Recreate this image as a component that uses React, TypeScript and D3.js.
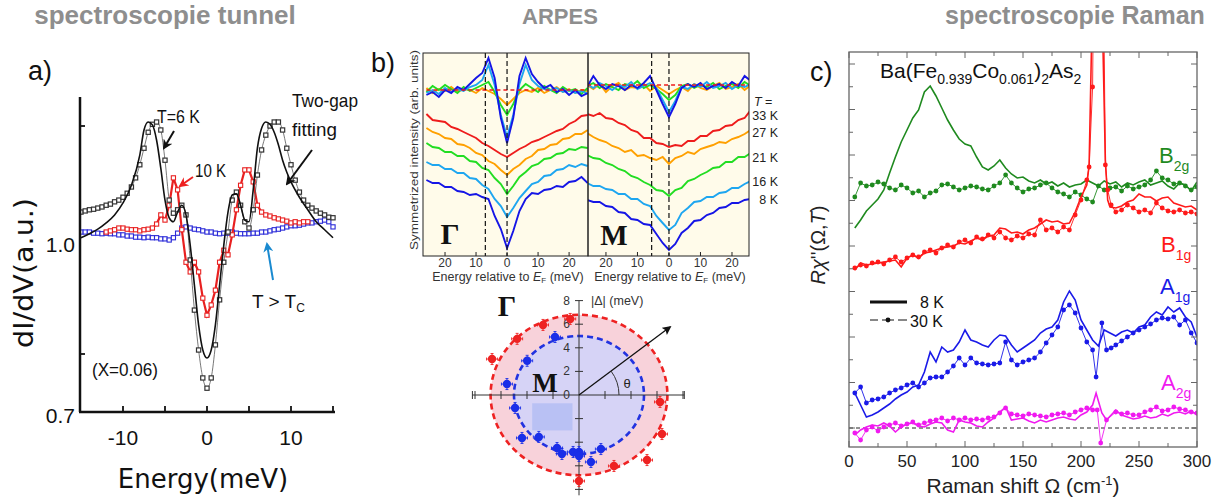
import React from "react";
import * as d3 from "d3";

// ---------------- Panel a : tunnelling spectroscopy (dI/dV vs energy) ----------------
const tunnelTicksE = [-10, -5, 0, 5, 10, 15];
const tunnelLabelsE = [-10, 0, 10];
const tunnelTicksG = [0.8, 1.2];
const tunnelLabelsG = [0.7, 1.0];

const tunnel6K: number[][] = [
  [-15, 1.049], [-14.5, 1.051], [-14, 1.053], [-13.5, 1.054], [-13, 1.056], [-12.5, 1.058], [-12, 1.061], [-11.5, 1.063],
  [-11, 1.067], [-10.5, 1.07], [-10, 1.075], [-9.5, 1.082], [-9, 1.093], [-8.5, 1.109], [-8, 1.132], [-7.5, 1.161],
  [-7, 1.189], [-6.5, 1.203], [-6, 1.207], [-5.5, 1.193], [-5, 1.14], [-4.5, 1.07], [-4, 1.047], [-3.5, 1.053],
  [-3, 1.061], [-2.5, 1.044], [-2, 0.965], [-1.5, 0.877], [-1, 0.807], [-0.5, 0.758], [0, 0.74], [0.5, 0.758],
  [1, 0.816], [1.5, 0.895], [2, 0.961], [2.5, 1.014], [3, 1.07], [3.5, 1.084], [4, 1.061], [4.5, 1.032],
  [5, 1.021], [5.5, 1.053], [6, 1.114], [6.5, 1.158], [7, 1.184], [7.5, 1.2], [8, 1.207], [8.5, 1.207],
  [9, 1.193], [9.5, 1.161], [10, 1.132], [10.5, 1.105], [11, 1.084], [11.5, 1.07], [12, 1.061], [12.5, 1.056],
  [13, 1.051], [13.5, 1.047], [14, 1.044], [14.5, 1.04], [15, 1.039],
];
const tunnelFit6K: number[][] = [
  [-15, 1.004], [-14, 1.011], [-13, 1.019], [-12, 1.03], [-11, 1.044], [-10, 1.065], [-9, 1.096], [-8, 1.149],
  [-7.5, 1.193], [-7, 1.207], [-6.5, 1.202], [-6, 1.175], [-5.5, 1.126], [-5, 1.07], [-4.5, 1.039], [-4, 1.032],
  [-3.5, 1.049], [-3, 1.061], [-2.5, 1.044], [-2, 0.991], [-1.5, 0.921], [-1, 0.851], [-0.5, 0.807], [0, 0.793],
  [0.5, 0.807], [1, 0.851], [1.5, 0.921], [2, 0.991], [2.5, 1.049], [3, 1.079], [3.5, 1.081], [4, 1.061],
  [4.5, 1.035], [5, 1.032], [5.5, 1.088], [6, 1.161], [6.5, 1.196], [7, 1.207], [7.5, 1.203], [8, 1.189],
  [8.5, 1.167], [9, 1.14], [9.5, 1.119], [10, 1.102], [11, 1.075], [12, 1.053], [13, 1.032], [14, 1.018], [15, 1.004],
];
const tunnel10K: number[][] = [
  [-12, 1.014], [-11.5, 1.016], [-11, 1.018], [-10.5, 1.021], [-10, 1.021], [-9.5, 1.019], [-9, 1.018], [-8.5, 1.018],
  [-8, 1.016], [-7.5, 1.018], [-7, 1.019], [-6.5, 1.021], [-6, 1.028], [-5.5, 1.044], [-5, 1.035], [-4.5, 1.061],
  [-4, 1.109], [-3.5, 1.088], [-3, 1.018], [-2.5, 0.961], [-2, 0.944], [-1.5, 0.961], [-1, 0.944], [-0.5, 0.898],
  [0, 0.868], [0.5, 0.886], [1, 0.912], [1.5, 0.961], [2, 0.982], [2.5, 0.974], [3, 1.009], [3.5, 1.053],
  [4, 1.096], [4.5, 1.123], [5, 1.123], [5.5, 1.102], [6, 1.061], [6.5, 1.049], [7, 1.044], [7.5, 1.042],
  [8, 1.039], [8.5, 1.037], [9, 1.035], [9.5, 1.033], [10, 1.03], [10.5, 1.032], [11, 1.03], [11.5, 1.032], [12, 1.032],
];
const tunnelAboveTc: number[][] = [
  [-15, 1.014], [-14.5, 1.014], [-14, 1.014], [-13.5, 1.012], [-13, 1.012], [-12.5, 1.011], [-12, 1.012], [-11.5, 1.011],
  [-11, 1.011], [-10.5, 1.009], [-10, 1.009], [-9.5, 1.007], [-9, 1.007], [-8.5, 1.005], [-8, 1.005], [-7.5, 1.004],
  [-7, 1.005], [-6.5, 1.004], [-6, 1.004], [-5.5, 1.002], [-5, 1.002], [-4.5, 1.0], [-4, 1.004], [-3.5, 1.012],
  [-3, 1.021], [-2.5, 1.023], [-2, 1.021], [-1.5, 1.019], [-1, 1.018], [-0.5, 1.016], [0, 1.014], [0.5, 1.014],
  [1, 1.012], [1.5, 1.011], [2, 1.012], [2.5, 1.012], [3, 1.014], [3.5, 1.012], [4, 1.011], [4.5, 1.011],
  [5, 1.011], [5.5, 1.012], [6, 1.012], [6.5, 1.014], [7, 1.014], [7.5, 1.016], [8, 1.018], [8.5, 1.019],
  [9, 1.021], [9.5, 1.023], [10, 1.025], [10.5, 1.025], [11, 1.026], [11.5, 1.028], [12, 1.03], [12.5, 1.03],
  [13, 1.032], [13.5, 1.033], [14, 1.035], [14.5, 1.032], [15, 1.023],
];

// ---------------- Panel b : ARPES symmetrized EDCs ----------------
const arpesEnergy = [-26, -24, -22, -20, -18, -16, -14, -12, -10, -8, -6, -4, -2, 0, 2, 4, 6, 8, 10, 12, 14, 16, 18, 20, 22, 24, 26];
const arpesTicks = [-20, -10, 0, 10, 20];
const arpesTemps = ["33 K", "27 K", "21 K", "16 K", "8 K"];
const arpesColors = ["#ee1c1c", "#ffa000", "#22dd22", "#1ea6f0", "#1515e6"];

const gammaLower = [
  [142, 136, 135, 134, 129, 127, 124, 121, 118, 113, 110, 106, 102, 99, 103, 107, 110, 114, 116, 119, 122, 125, 127, 132, 135, 140, 141],
  [128, 124, 122, 118, 117, 112, 111, 108, 103, 101, 95, 92, 86, 81, 87, 91, 97, 100, 106, 107, 111, 112, 117, 118, 122, 122, 126],
  [113, 109, 108, 104, 104, 100, 100, 95, 94, 88, 86, 78, 72, 62, 70, 79, 84, 90, 92, 97, 98, 102, 103, 107, 106, 109, 108],
  [94, 91, 91, 87, 87, 83, 83, 78, 77, 71, 67, 57, 50, 39, 48, 58, 65, 72, 74, 80, 81, 86, 87, 91, 89, 92, 90],
  [76, 73, 73, 69, 69, 65, 64, 61, 62, 59, 57, 40, 27, 8, 25, 45, 57, 63, 62, 66, 67, 70, 69, 74, 75, 79, 73],
];
const gammaTop = [
  [166, 166, 166, 166, 166, 166, 166, 166, 166, 166, 166, 166, 166, 166, 166, 166, 166, 166, 166, 166, 166, 166, 166, 166, 166, 166, 166],
  [168, 163, 167, 165, 169, 164, 167, 166, 163, 168, 165, 162, 157, 151, 157, 163, 166, 164, 168, 163, 166, 169, 164, 167, 163, 166, 165],
  [164, 170, 166, 171, 167, 163, 169, 165, 168, 171, 174, 164, 151, 141, 152, 166, 172, 168, 164, 170, 166, 163, 169, 165, 167, 162, 168],
  [163, 166, 162, 168, 164, 167, 165, 169, 171, 176, 191, 171, 141, 119, 141, 172, 191, 176, 170, 167, 166, 168, 164, 166, 163, 165, 162],
  [161, 164, 159, 166, 163, 169, 166, 172, 178, 183, 198, 178, 138, 113, 138, 180, 198, 182, 174, 168, 171, 164, 167, 161, 166, 160, 163],
];
const mLower = [
  [142, 140, 143, 138, 137, 133, 131, 126, 124, 118, 118, 113, 112, 109, 111, 110, 115, 115, 120, 120, 125, 126, 130, 131, 136, 138, 146],
  [123, 119, 116, 114, 110, 108, 104, 106, 100, 101, 98, 96, 99, 92, 98, 100, 104, 102, 107, 109, 111, 114, 113, 117, 119, 122, 126],
  [101, 98, 97, 93, 91, 87, 85, 80, 78, 74, 71, 66, 65, 60, 66, 68, 75, 77, 81, 84, 88, 89, 94, 94, 99, 99, 103],
  [73, 70, 70, 67, 66, 62, 62, 57, 57, 52, 50, 40, 33, 26, 31, 43, 48, 54, 55, 59, 59, 63, 64, 68, 68, 72, 75],
  [56, 54, 54, 50, 49, 44, 43, 37, 36, 32, 31, 22, 13, 6, 12, 23, 28, 35, 36, 41, 43, 48, 49, 53, 53, 56, 57],
];
const mTop = [
  [171, 171, 171, 171, 171, 171, 171, 171, 171, 171, 171, 171, 171, 171, 171, 171, 171, 171, 171, 171, 171, 171, 171, 171, 171, 171, 171],
  [171, 167, 172, 164, 170, 173, 166, 169, 168, 172, 165, 170, 166, 162, 166, 169, 165, 172, 168, 166, 170, 173, 167, 169, 172, 166, 171],
  [170, 173, 168, 172, 169, 166, 172, 170, 175, 168, 171, 167, 162, 156, 161, 170, 172, 168, 171, 169, 173, 167, 170, 172, 168, 174, 170],
  [172, 168, 173, 170, 166, 171, 169, 174, 167, 170, 173, 168, 156, 144, 155, 169, 167, 172, 169, 174, 168, 170, 173, 167, 171, 169, 172],
  [169, 180, 171, 167, 172, 170, 166, 171, 168, 173, 180, 166, 152, 139, 152, 168, 172, 169, 173, 167, 170, 172, 168, 174, 170, 180, 175],
];
const gammaGapLines = [-7, 0];
const mGapLines = [-5.5, 0];

// polar gap plot: [angle in degrees, |Delta| in meV]
const gapGammaPoints: number[][] = [
  [96, 6.48], [115, 6.55], [135, 6.73], [155.5, 7.35], [-5.4, 6.26], [-27.4, 7.19], [-46.5, 7.6], [-65.9, 6.59], [-90, 7.29],
];
const gapMPoints: number[][] = [
  [110.6, 5.25], [144, 4.93], [170.5, 5.62], [192.6, 5.04], [219.7, 5.7], [229, 4.71], [249.4, 4.8], [255.3, 5.17],
  [264.6, 4.85], [270, 4.83], [270, 5.17], [279.2, 5.75], [290.2, 4.88],
];
const gapGammaFit = 6.8;
const gapMFit = 5.0;
const polarTicks = [-8, -6, -4, -2, 2, 4, 6, 8];
const polarLabels = [0, 2, 4, 6, 8];

// ---------------- Panel c : Raman ----------------
const ramanTicks = [0, 50, 100, 150, 200, 250, 300];
const ramanShiftGrid = [5, 10, 15, 20, 25, 30, 35, 40, 45, 50, 55, 60, 65, 70, 75, 80, 85, 90, 95, 100, 105, 110, 115, 120, 125, 130, 135, 140, 145, 150,
  155, 160, 165, 170, 175, 180, 185, 190, 195, 200, 205, 210, 215, 220, 225, 230, 235, 240, 245, 250, 255, 260, 265, 270, 275, 280, 285, 290, 295, 300];
const ramanB2g8K = [200, 208, 217, 223, 229, 238, 255, 271, 286, 298, 310, 318, 336, 342, 332, 320, 308, 298, 289, 284,
  282, 271, 261, 258, 262, 268, 260, 254, 250, 251, 247, 245, 248, 244, 246, 242, 245, 241, 243, 244,
  248, 245, 242, 247, 244, 246, 241, 245, 243, 246, 248, 243, 245, 247, 242, 239, 245, 243, 237, 246];
const ramanB2g30K = [231, 245, 242, 243, 246, 244, 240, 238, 243, 240, 235, 237, 231, 235, 237, 243, 244, 241, 238, 240,
  242, 241, 239, 238, 242, 245, 253, 245, 240, 236, 239, 240, 243, 245, 240, 236, 234, 231, 236, 233,
  229, 226, 242, 238, 240, 241, 237, 242, 239, 241, 243, 248, 257, 250, 248, 244, 245, 242, 238, 241];
const ramanA1g8K = [35, 23, 11, 13, 16, 20, 24, 29, 33, 36, 41, 43, 56, 76, 66, 81, 76, 78, 86, 98,
  88, 86, 83, 81, 88, 93, 92, 83, 76, 80, 84, 88, 95, 99, 101, 108, 126, 137, 128, 108,
  98, 88, 82, 98, 95, 92, 96, 98, 95, 101, 103, 111, 116, 113, 121, 116, 120, 111, 106, 91];
const ramanB1g8K: number[][] = [
  [5, 158], [10, 165], [15, 163], [20, 164], [25, 165], [30, 166], [35, 167], [40, 168], [45, 161], [50, 170], [55, 173], [60, 170],
  [65, 175], [70, 176], [75, 178], [80, 180], [85, 181], [90, 182], [95, 185], [100, 184], [105, 187], [110, 190], [115, 188],
  [120, 192], [125, 193], [130, 200], [135, 199], [140, 195], [145, 196], [150, 194], [155, 198], [160, 200], [165, 204],
  [170, 208], [175, 206], [180, 207], [185, 204], [190, 205], [195, 216], [200, 231], [205, 243], [207, 263], [209, 378],
  [212, 828], [216, 828], [219, 378], [221, 268], [223, 228], [225, 221], [230, 220], [235, 222], [240, 226], [245, 228],
  [250, 234], [255, 231], [260, 231], [265, 227], [270, 230], [275, 231], [280, 225], [285, 223], [290, 221], [295, 222], [300, 218],
];
const ramanB1g30K: number[][] = [
  [5, 160], [10, 163], [15, 162], [20, 165], [25, 166], [30, 164], [35, 168], [40, 171], [45, 166], [50, 170], [55, 173], [60, 171],
  [65, 176], [70, 178], [75, 175], [80, 180], [85, 183], [90, 181], [95, 186], [100, 188], [105, 185], [110, 191], [115, 189],
  [120, 193], [125, 190], [130, 196], [135, 190], [140, 188], [145, 192], [150, 190], [155, 194], [160, 193], [165, 208],
  [170, 198], [175, 200], [180, 196], [185, 201], [190, 198], [195, 213], [200, 228], [205, 248], [207, 261], [210, 341],
  [213, 728], [217, 728], [221, 263], [223, 238], [226, 223], [230, 216], [235, 218], [240, 223], [245, 220], [250, 216],
  [255, 218], [260, 215], [265, 225], [270, 220], [275, 217], [280, 216], [285, 218], [290, 215], [295, 216], [300, 214],
];
const ramanA1g30K: number[][] = [
  [5, 35], [10, 41], [15, 25], [20, 28], [25, 29], [30, 31], [35, 35], [40, 38], [45, 40], [50, 43], [55, 45], [60, 41], [65, 45],
  [70, 50], [75, 51], [80, 51], [85, 56], [90, 62], [95, 70], [100, 63], [105, 70], [110, 65], [115, 64], [120, 63], [125, 64],
  [130, 65], [135, 86], [140, 68], [145, 63], [150, 66], [155, 68], [160, 70], [165, 76], [170, 85], [175, 93], [180, 101],
  [185, 118], [190, 123], [195, 115], [200, 100], [205, 86], [210, 78], [213, 51], [218, 105], [222, 78], [226, 80], [230, 83],
  [235, 87], [240, 91], [245, 95], [250, 98], [255, 101], [260, 104], [265, 108], [270, 110], [275, 109], [280, 111],
  [285, 103], [290, 108], [295, 95], [300, 85],
];
const ramanA2g8K: number[][] = [
  [5, -7], [10, -2], [15, 1], [20, 3], [25, 2], [30, 5], [35, 2], [40, -4], [45, 1], [50, 4], [55, 5], [60, 2], [65, 1], [70, 4],
  [75, 6], [80, 5], [85, -2], [90, -4], [95, 8], [100, 6], [105, 5], [110, 2], [115, 1], [120, 6], [125, 10], [130, 16],
  [135, 21], [140, 8], [145, 9], [150, 10], [155, 7], [160, 5], [165, 8], [170, 6], [175, 8], [180, 10], [185, 11], [190, 9],
  [195, 8], [200, 13], [205, 16], [210, 23], [213, 35], [218, 15], [222, 8], [230, 18], [235, 13], [240, 11], [245, 9],
  [250, 10], [255, 12], [260, 10], [265, 11], [270, 14], [275, 12], [280, 15], [285, 16], [290, 14], [295, 17], [300, 13],
];
const ramanA2g30K: number[][] = [
  [5, -5], [10, -12], [15, -2], [20, 1], [25, -3], [30, 1], [35, 3], [40, 5], [45, 2], [50, 4], [55, 6], [60, 3], [65, 5],
  [70, 7], [75, 8], [80, 10], [85, 7], [90, 10], [95, 8], [100, 10], [105, 8], [110, 9], [115, 8], [120, 10], [125, 11],
  [130, 15], [135, 20], [140, 14], [145, 13], [150, 12], [155, 14], [160, 13], [165, 12], [170, 11], [175, 13], [180, 14],
  [185, 15], [190, 13], [195, 16], [200, 18], [205, 20], [210, 18], [214, 18], [217, -15], [222, 8], [230, 16], [235, 14],
  [240, 15], [245, 13], [250, 13], [255, 16], [260, 18], [265, 21], [270, 17], [275, 18], [280, 21], [285, 19], [290, 18],
  [295, 16], [300, 15],
];
const ramanTickStepY = 22.75;

const SANS = "'Liberation Sans', Arial, sans-serif";
const DEJA = "'DejaVu Sans', sans-serif";
const SERIF = "'Liberation Serif', 'DejaVu Serif', serif";

export default function App() {
  // ---------- panel a scales ----------
  const xa = d3.scaleLinear().domain([-15, 15]).range([81, 333]);
  const ya = d3.scaleLinear().domain([0.7, 1.0]).range([411, 240]);
  const lineA = d3.line<number[]>().x((d) => xa(d[0])).y((d) => ya(d[1]));
  const lineASmooth = d3.line<number[]>().x((d) => xa(d[0])).y((d) => ya(d[1])).curve(d3.curveMonotoneX);

  // ---------- panel b scales ----------
  const xG = d3.scaleLinear().domain([-27.1, 26.1]).range([423, 588]);
  const xM = d3.scaleLinear().domain([-25.7, 25.4]).range([588, 749]);
  const yB = d3.scaleLinear().domain([0, 203]).range([256, 53]);
  const lineG = d3.line<number>().x((_, i) => xG(arpesEnergy[i])).y((d) => yB(d));
  const lineM = d3.line<number>().x((_, i) => xM(arpesEnergy[i])).y((d) => yB(d));

  const polarX = d3.scaleLinear().domain([-8.2, 8.1]).range([472.4, 684.3]);
  const polarY = d3.scaleLinear().domain([-8.5, 8]).range([495.3, 300.6]);
  const pcx = polarX(0);
  const pcy = polarY(0);
  const toXY = (p: number[]) => {
    const a = (p[0] * Math.PI) / 180;
    return [polarX(p[1] * Math.cos(a)), polarY(p[1] * Math.sin(a))];
  };
  const arrowTip = [polarX(7.0), polarY(5.76)];

  // ---------- panel c scales ----------
  const xR = d3.scaleLinear().domain([0, 300]).range([849, 1197]);
  const yR = d3.scaleLinear().domain([-19, 376]).range([447, 52]);
  const lineRGrid = d3.line<number>().x((_, i) => xR(ramanShiftGrid[i])).y((d) => yR(d));
  const lineRPairs = d3.line<number[]>().x((d) => xR(d[0])).y((d) => yR(d[1]));
  const ramanMinorX = d3.range(0, 301, 25);
  const ramanTicksY = d3.range(0, 376, ramanTickStepY);

  const sq = 4.2;

  const dotsGrid = (vals: number[], color: string) =>
    vals.map((v, i) => <circle key={i} cx={xR(ramanShiftGrid[i])} cy={yR(v)} r={2.4} fill={color} />);
  const dotsPairs = (vals: number[][], color: string) =>
    vals.map((p, i) => <circle key={i} cx={xR(p[0])} cy={yR(p[1])} r={2.4} fill={color} />);

  const green = "#1f8a1f";
  const red = "#ff1a1a";
  const blue = "#1a1ae8";
  const magenta = "#f01af0";

  const errBar = (x: number, y: number, c: string, k: string) => (
    <g key={k} stroke={c} strokeWidth={0.9}>
      <line x1={x - 5.5} x2={x + 5.5} y1={y} y2={y} />
      <line x1={x} x2={x} y1={y - 5.5} y2={y + 5.5} />
      <line x1={x - 5.5} x2={x - 5.5} y1={y - 1.5} y2={y + 1.5} />
      <line x1={x + 5.5} x2={x + 5.5} y1={y - 1.5} y2={y + 1.5} />
      <line x1={x - 1.5} x2={x + 1.5} y1={y - 5.5} y2={y - 5.5} />
      <line x1={x - 1.5} x2={x + 1.5} y1={y + 5.5} y2={y + 5.5} />
      <circle cx={x} cy={y} r={4.2} fill={c} stroke="none" />
    </g>
  );

  return (
    <svg width={1225} height={502} style={{ position: "absolute", left: 0, top: 0, background: "#fff" }}
      xmlns="http://www.w3.org/2000/svg">
      <defs>
        <marker id="arrK" viewBox="0 0 10 10" refX="8" refY="5" markerWidth="5" markerHeight="5" orient="auto">
          <path d="M0,0 L10,5 L0,10 L3,5 z" fill="#111" />
        </marker>
        <marker id="arrR" viewBox="0 0 10 10" refX="8" refY="5" markerWidth="5" markerHeight="5" orient="auto">
          <path d="M0,0 L10,5 L0,10 L3,5 z" fill="#ee2020" />
        </marker>
        <marker id="arrB" viewBox="0 0 10 10" refX="8" refY="5" markerWidth="5" markerHeight="5" orient="auto">
          <path d="M0,0 L10,5 L0,10 L3,5 z" fill="#1a8ad0" />
        </marker>
        <marker id="arrP" viewBox="0 0 10 10" refX="8" refY="5" markerWidth="7" markerHeight="7" orient="auto">
          <path d="M0,0 L10,5 L0,10 L2,5 z" fill="#111" />
        </marker>
        <clipPath id="clipA"><rect x={80} y={60} width={260} height={352} /></clipPath>
        <clipPath id="clipG"><rect x={423} y={53} width={165} height={203} /></clipPath>
        <clipPath id="clipM"><rect x={588} y={53} width={161} height={203} /></clipPath>
        <clipPath id="clipR"><rect x={849} y={52} width={348} height={395} /></clipPath>
      </defs>

      {/* ================= titles ================= */}
      <text x={165} y={24} textAnchor="middle" fontFamily={SANS} fontWeight="bold" fontSize={26} fill="#8e8e8e">spectroscopie tunnel</text>
      <text x={560} y={24} textAnchor="middle" fontFamily={SANS} fontWeight="bold" fontSize={22} fill="#8e8e8e">ARPES</text>
      <text x={1075} y={24} textAnchor="middle" fontFamily={SANS} fontWeight="bold" fontSize={25} fill="#8e8e8e">spectroscopie Raman</text>

      {/* ================= panel a ================= */}
      <text x={28} y={80} fontFamily={SANS} fontSize={27} fill="#111">a)</text>
      <g clipPath="url(#clipA)">
        <path d={lineA(tunnelAboveTc) || ""} fill="none" stroke="#2a2ad8" strokeWidth={0.8} />
        {tunnelAboveTc.map((d, i) => (
          <rect key={"b" + i} x={xa(d[0]) - sq / 2} y={ya(d[1]) - sq / 2} width={sq} height={sq} fill="#fff" stroke="#2a2ad8" strokeWidth={1.1} />
        ))}
        <path d={lineA(tunnel10K) || ""} fill="none" stroke="#e82020" strokeWidth={2.2} />
        {tunnel10K.map((d, i) => (
          <rect key={"r" + i} x={xa(d[0]) - sq / 2} y={ya(d[1]) - sq / 2} width={sq} height={sq} fill="#fff" stroke="#e82020" strokeWidth={1.1} />
        ))}
        <path d={lineASmooth(tunnel6K) || ""} fill="none" stroke="#555" strokeWidth={0.8} />
        {tunnel6K.map((d, i) => (
          <rect key={"k" + i} x={xa(d[0]) - sq / 2} y={ya(d[1]) - sq / 2} width={sq} height={sq} fill="#fff" stroke="#333" strokeWidth={1.2} />
        ))}
        <path d={lineASmooth(tunnelFit6K) || ""} fill="none" stroke="#111" strokeWidth={1.6} />
      </g>
      {/* axes a */}
      <line x1={80} x2={80} y1={97} y2={412} stroke="#111" strokeWidth={2.5} />
      <line x1={79} x2={335} y1={412} y2={412} stroke="#111" strokeWidth={2.5} />
      {tunnelTicksE.map((t) => (
        <line key={t} x1={xa(t)} x2={xa(t)} y1={412} y2={406} stroke="#111" strokeWidth={1.8} />
      ))}
      {tunnelTicksG.map((t) => (
        <line key={t} x1={80} x2={85} y1={ya(t)} y2={ya(t)} stroke="#111" strokeWidth={1.8} />
      ))}
      {tunnelLabelsE.map((t) => (
        <text key={t} x={xa(t)} y={445} textAnchor="middle" fontFamily={SANS} fontSize={21} fill="#111">{t}</text>
      ))}
      {tunnelLabelsG.map((t) => (
        <text key={t} x={75} y={ya(t) + 12} textAnchor="end" fontFamily={SANS} fontSize={21} fill="#111">{t.toFixed(1)}</text>
      ))}
      <text x={203} y={488} textAnchor="middle" fontFamily={DEJA} fontSize={26} fill="#111">Energy(meV)</text>
      <text transform="translate(33,273) rotate(-90)" textAnchor="middle" fontFamily={DEJA} fontSize={26} fill="#111"
        textLength={150} lengthAdjust="spacingAndGlyphs">dI/dV(a.u.)</text>
      <text x={157} y={123} fontFamily={SANS} fontSize={19} fill="#111" textLength={43} lengthAdjust="spacingAndGlyphs">T=6 K</text>
      <line x1={174} y1={131} x2={164} y2={148} stroke="#111" strokeWidth={2} markerEnd="url(#arrK)" />
      <text x={195} y={177} fontFamily={SANS} fontSize={19} fill="#111" textLength={31} lengthAdjust="spacingAndGlyphs">10 K</text>
      <line x1={193} y1={177} x2={180} y2={186} stroke="#ee2020" strokeWidth={2} markerEnd="url(#arrR)" />
      <text x={292} y={107} fontFamily={SANS} fontSize={19} fill="#111" textLength={66} lengthAdjust="spacingAndGlyphs">Two-gap</text>
      <text x={292} y={136} fontFamily={SANS} fontSize={19} fill="#111" textLength={45} lengthAdjust="spacingAndGlyphs">fitting</text>
      <line x1={312} y1={150} x2={287} y2={184} stroke="#111" strokeWidth={2} markerEnd="url(#arrK)" />
      <line x1={273} y1={280} x2={267} y2={244} stroke="#1a8ad0" strokeWidth={2} markerEnd="url(#arrB)" />
      <text x={252} y={308} fontFamily={SANS} fontSize={19} fill="#111">
        T {">"} T<tspan fontSize={12} dy={4}>C</tspan>
      </text>
      <text x={92} y={376} fontFamily={SANS} fontSize={19} fill="#111" textLength={66} lengthAdjust="spacingAndGlyphs">(X=0.06)</text>

      {/* ================= panel b : ARPES ================= */}
      <text x={371} y={72} fontFamily={SANS} fontSize={27} fill="#111">b)</text>
      <rect x={423} y={53} width={165} height={203} fill="#fffbea" />
      <rect x={588} y={53} width={161} height={203} fill="#fffbea" />
      <g clipPath="url(#clipG)">
        {gammaLower.map((c, i) => (
          <path key={"gl" + i} d={lineG(c) || ""} fill="none" stroke={arpesColors[i]} strokeWidth={1.9} />
        ))}
        {gammaTop.slice(1).map((c, i) => (
          <path key={"gt" + i} d={lineG(c) || ""} fill="none" stroke={arpesColors[i + 1]} strokeWidth={1.9} />
        ))}
        <path d={lineG(gammaTop[0]) || ""} fill="none" stroke={arpesColors[0]} strokeWidth={1.3} strokeDasharray="4,3" />
        {gammaGapLines.map((e) => (
          <line key={e} x1={xG(e)} x2={xG(e)} y1={53} y2={256} stroke="#111" strokeWidth={1.2} strokeDasharray="5,3" />
        ))}
      </g>
      <g clipPath="url(#clipM)">
        {mLower.map((c, i) => (
          <path key={"ml" + i} d={lineM(c) || ""} fill="none" stroke={arpesColors[i]} strokeWidth={1.9} />
        ))}
        {mTop.slice(1).map((c, i) => (
          <path key={"mt" + i} d={lineM(c) || ""} fill="none" stroke={arpesColors[i + 1]} strokeWidth={1.9} />
        ))}
        <path d={lineM(mTop[0]) || ""} fill="none" stroke={arpesColors[0]} strokeWidth={1.3} strokeDasharray="4,3" />
        {mGapLines.map((e) => (
          <line key={e} x1={xM(e)} x2={xM(e)} y1={53} y2={256} stroke="#111" strokeWidth={1.2} strokeDasharray="5,3" />
        ))}
      </g>
      <rect x={423} y={53} width={165} height={203} fill="none" stroke="#222" strokeWidth={1} />
      <rect x={588} y={53} width={161} height={203} fill="none" stroke="#222" strokeWidth={1} />
      {arpesTicks.map((t) => (
        <g key={"tk" + t}>
          <line x1={xG(t)} x2={xG(t)} y1={256} y2={252} stroke="#222" />
          <line x1={xM(t)} x2={xM(t)} y1={256} y2={252} stroke="#222" />
          <text x={xG(t)} y={267} textAnchor="middle" fontFamily={SANS} fontSize={12} fill="#333">{Math.abs(t)}</text>
          <text x={xM(t)} y={267} textAnchor="middle" fontFamily={SANS} fontSize={12} fill="#333">{Math.abs(t)}</text>
        </g>
      ))}
      <text x={508} y={281} textAnchor="middle" fontFamily={SANS} fontSize={12.5} fill="#333">
        Energy relative to <tspan fontStyle="italic">E</tspan><tspan fontSize={8} dy={2}>F</tspan><tspan dy={-2}> (meV)</tspan>
      </text>
      <text x={670} y={281} textAnchor="middle" fontFamily={SANS} fontSize={12.5} fill="#333">
        Energy relative to <tspan fontStyle="italic">E</tspan><tspan fontSize={8} dy={2}>F</tspan><tspan dy={-2}> (meV)</tspan>
      </text>
      <text transform="translate(418,150) rotate(-90)" textAnchor="middle" fontFamily={SANS} fontSize={11.5} fill="#333"
        textLength={200} lengthAdjust="spacingAndGlyphs">Symmetrized intensity (arb. units)</text>
      <text x={450} y={244} textAnchor="middle" fontFamily={SERIF} fontWeight="bold" fontSize={30} fill="#111">Γ</text>
      <text x={614} y={245} textAnchor="middle" fontFamily={SERIF} fontWeight="bold" fontSize={29} fill="#111">M</text>
      <text x={754} y={106} fontFamily={SANS} fontSize={12.5} fill="#222"><tspan fontStyle="italic">T</tspan> =</text>
      {arpesTemps.map((t, i) => (
        <text key={t} x={778} y={[120, 137, 162, 186, 204][i]} textAnchor="end" fontFamily={SANS} fontSize={12.5} fill="#222">{t}</text>
      ))}

      {/* polar gap plot */}
      <ellipse cx={pcx} cy={pcy} rx={polarX(gapGammaFit) - pcx} ry={pcy - polarY(gapGammaFit)} fill="#f8d2da" />
      <ellipse cx={pcx} cy={pcy} rx={polarX(gapMFit) - pcx} ry={pcy - polarY(gapMFit)} fill="#d6d3f6" />
      <rect x={polarX(-3.6)} y={polarY(-0.7)} width={polarX(-0.5) - polarX(-3.6)} height={polarY(-3.0) - polarY(-0.7)} fill="#b9c1f4" />
      <ellipse cx={pcx} cy={pcy} rx={polarX(gapGammaFit) - pcx} ry={pcy - polarY(gapGammaFit)} fill="none" stroke="#ee2222" strokeWidth={2.6} strokeDasharray="6,4" />
      <ellipse cx={pcx} cy={pcy} rx={polarX(gapMFit) - pcx} ry={pcy - polarY(gapMFit)} fill="none" stroke="#2233e0" strokeWidth={2.6} strokeDasharray="6,4" />
      <line x1={polarX(-8.2)} x2={polarX(8.1)} y1={pcy} y2={pcy} stroke="#333" strokeWidth={1} />
      <line x1={pcx} x2={pcx} y1={polarY(8)} y2={polarY(-8.5)} stroke="#333" strokeWidth={1} />
      {polarTicks.map((t) => (
        <g key={"pt" + t} stroke="#333">
          <line x1={polarX(t)} x2={polarX(t)} y1={pcy - 4} y2={pcy + 4} />
          <line x1={pcx - 4} x2={pcx + 4} y1={polarY(t)} y2={polarY(t)} />
        </g>
      ))}
      <line x1={polarX(-8.2)} x2={polarX(-8.2)} y1={pcy - 4} y2={pcy + 4} stroke="#333" />
      <line x1={polarX(8.1)} x2={polarX(8.1)} y1={pcy - 4} y2={pcy + 4} stroke="#333" />
      {polarLabels.map((t) => (
        <text key={"pl" + t} x={pcx - 9} y={polarY(t) + 4} textAnchor="end" fontFamily={SANS} fontSize={12} fill="#333">{t}</text>
      ))}
      <text x={591} y={305} fontFamily={SANS} fontSize={12.5} fill="#333">|Δ| (meV)</text>
      {gapGammaPoints.map((p, i) => {
        const [x, y] = toXY(p);
        return errBar(x, y, "#ee2222", "gr" + i);
      })}
      {gapMPoints.map((p, i) => {
        const [x, y] = toXY(p);
        return errBar(x, y, "#1a2ee8", "mb" + i);
      })}
      <line x1={pcx} y1={pcy} x2={arrowTip[0]} y2={arrowTip[1]} stroke="#111" strokeWidth={1.3} markerEnd="url(#arrP)" />
      <path d={`M${pcx + 40},${pcy} A40,40 0 0 0 ${pcx + 40 * Math.cos(0.642)},${pcy - 40 * Math.sin(0.642)}`} fill="none" stroke="#333" strokeWidth={1} />
      <text x={627} y={388} textAnchor="middle" fontFamily={SANS} fontSize={13} fill="#222">θ</text>
      <text x={507} y={316} textAnchor="middle" fontFamily={SERIF} fontWeight="bold" fontSize={29} fill="#111">Γ</text>
      <text x={545} y={392} textAnchor="middle" fontFamily={SERIF} fontWeight="bold" fontSize={27} fill="#111">M</text>

      {/* ================= panel c : Raman ================= */}
      <text x={810} y={81} fontFamily={SANS} fontSize={27} fill="#111">c)</text>
      <g clipPath="url(#clipR)">
        <line x1={849} x2={1197} y1={yR(0)} y2={yR(0)} stroke="#222" strokeWidth={1} strokeDasharray="4,3" />
        {/* B2g */}
        <path d={lineRGrid(ramanB2g30K) || ""} fill="none" stroke={green} strokeWidth={0.9} />
        {dotsGrid(ramanB2g30K, green)}
        <path d={lineRGrid(ramanB2g8K) || ""} fill="none" stroke={green} strokeWidth={1.6} />
        {/* B1g */}
        <path d={lineRPairs(ramanB1g30K) || ""} fill="none" stroke={red} strokeWidth={0.9} />
        {dotsPairs(ramanB1g30K, red)}
        <path d={lineRPairs(ramanB1g8K) || ""} fill="none" stroke={red} strokeWidth={1.6} />
        {/* A1g */}
        <path d={lineRPairs(ramanA1g30K) || ""} fill="none" stroke={blue} strokeWidth={0.9} />
        {dotsPairs(ramanA1g30K, blue)}
        <path d={lineRGrid(ramanA1g8K) || ""} fill="none" stroke={blue} strokeWidth={1.6} />
        {/* A2g */}
        <path d={lineRPairs(ramanA2g30K) || ""} fill="none" stroke={magenta} strokeWidth={0.9} />
        {dotsPairs(ramanA2g30K, magenta)}
        <path d={lineRPairs(ramanA2g8K) || ""} fill="none" stroke={magenta} strokeWidth={1.6} />
      </g>
      <rect x={849} y={52} width={348} height={395} fill="none" stroke="#666" strokeWidth={1.3} />
      {ramanMinorX.map((t) => (
        <g key={"rx" + t} stroke="#666" strokeWidth={1}>
          <line x1={xR(t)} x2={xR(t)} y1={447} y2={t % 50 === 0 ? 441 : 443} />
          <line x1={xR(t)} x2={xR(t)} y1={52} y2={t % 50 === 0 ? 58 : 56} />
        </g>
      ))}
      {ramanTicksY.map((t, i) => (
        <g key={"ry" + i} stroke="#666" strokeWidth={1}>
          <line x1={849} x2={i % 2 === 0 ? 855 : 853} y1={yR(t)} y2={yR(t)} />
          <line x1={1197} x2={i % 2 === 0 ? 1191 : 1193} y1={yR(t)} y2={yR(t)} />
        </g>
      ))}
      {ramanTicks.map((t) => (
        <text key={"rl" + t} x={xR(t)} y={467} textAnchor="middle" fontFamily={SANS} fontSize={17} fill="#222">{t}</text>
      ))}
      <text x={1023} y={493} textAnchor="middle" fontFamily={SANS} fontSize={21} fill="#222">
        Raman shift Ω (cm<tspan fontSize={13} dy={-8}>-1</tspan><tspan dy={8}>)</tspan>
      </text>
      <text transform="translate(825,245) rotate(-90)" textAnchor="middle" fontFamily={SANS} fontSize={20} fill="#222">
        <tspan fontStyle="italic">Rχ</tspan>''(Ω,<tspan fontStyle="italic">T</tspan>)
      </text>
      <text x={880} y={78} fontFamily={SANS} fontSize={21} fill="#111">
        Ba(Fe<tspan fontSize={14} dy={6}>0.939</tspan><tspan dy={-6}>Co</tspan><tspan fontSize={14} dy={6}>0.061</tspan>
        <tspan dy={-6}>)</tspan><tspan fontSize={14} dy={6}>2</tspan><tspan dy={-6}>As</tspan><tspan fontSize={14} dy={6}>2</tspan>
      </text>
      {/* legend */}
      <line x1={870} x2={907} y1={302} y2={302} stroke="#111" strokeWidth={3} />
      <text x={920} y={308} fontFamily={SANS} fontSize={16} fill="#111">8 K</text>
      <line x1={870} x2={878} y1={320} y2={320} stroke="#111" strokeWidth={1} />
      <line x1={882} x2={907} y1={320} y2={320} stroke="#111" strokeWidth={1} strokeDasharray="12,4" />
      <circle cx={888} cy={320} r={2.4} fill="#111" />
      <text x={910} y={327} fontFamily={SANS} fontSize={16} fill="#111">30 K</text>
      {/* series labels */}
      <text x={1159} y={163} fontFamily={SANS} fontSize={22} fill={green}>B<tspan fontSize={14} dy={8}>2g</tspan></text>
      <text x={1161} y={252} fontFamily={SANS} fontSize={22} fill={red}>B<tspan fontSize={14} dy={8}>1g</tspan></text>
      <text x={1160} y={294} fontFamily={SANS} fontSize={22} fill={blue}>A<tspan fontSize={14} dy={8}>1g</tspan></text>
      <text x={1161} y={390} fontFamily={SANS} fontSize={22} fill={magenta}>A<tspan fontSize={14} dy={8}>2g</tspan></text>
    </svg>
  );
}
